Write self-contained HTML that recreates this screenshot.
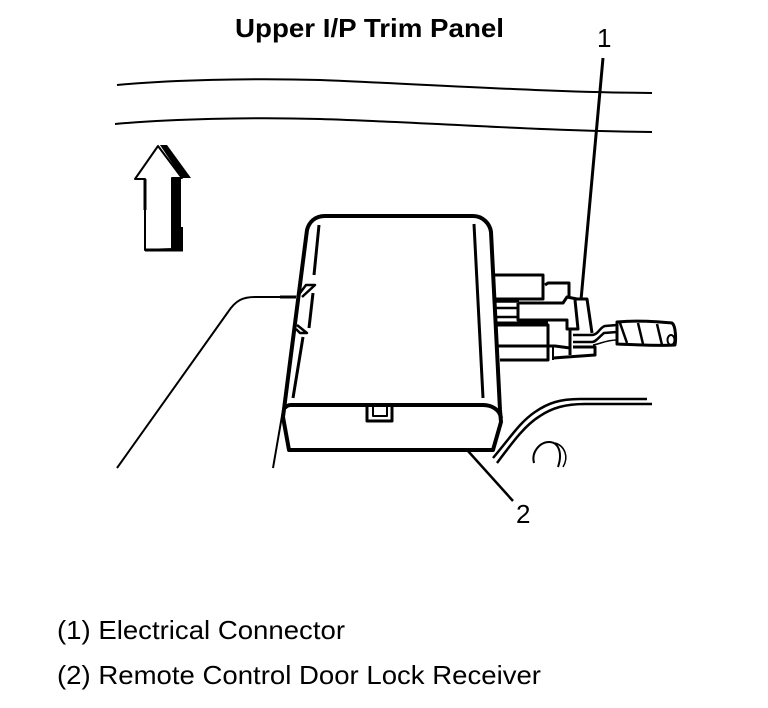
<!DOCTYPE html>
<html>
<head>
<meta charset="utf-8">
<style>
html,body{margin:0;padding:0;background:#fff;}
svg{display:block;}
text{font-family:"Liberation Sans",sans-serif;fill:#000;}
</style>
</head>
<body>
<svg width="768" height="708" viewBox="0 0 768 708" xmlns="http://www.w3.org/2000/svg" fill="none" stroke="#000" stroke-linecap="butt" stroke-linejoin="round">
<text x="235" y="37" font-size="26" font-weight="bold" stroke="none" textLength="269" lengthAdjust="spacingAndGlyphs">Upper I/P Trim Panel</text>
<text x="597" y="47" font-size="26" stroke="none">1</text>
<text x="516" y="523" font-size="26" stroke="none">2</text>
<text x="57" y="639" font-size="26" stroke="none" textLength="288" lengthAdjust="spacingAndGlyphs">(1) Electrical Connector</text>
<text x="57" y="684" font-size="26" stroke="none" textLength="484" lengthAdjust="spacingAndGlyphs">(2) Remote Control Door Lock Receiver</text>

<!-- dash lines -->
<path d="M117 85C170 80 250 78 320 80C420 84 540 92 652 93" stroke-width="2"/>
<path d="M115 124C170 119 250 117 320 119C420 122 540 131 652 132" stroke-width="2"/>

<!-- arrow -->
<path d="M145 250V179H135L158 146L182 178H172V249Z" fill="#fff" stroke-width="2"/>
<path d="M145 179V210" stroke-width="3"/>
<path d="M160 145H167L191 178H182Z" fill="#000" stroke="none"/>
<path d="M172 177H181V227H183V250H172Z" fill="#000" stroke="none"/>
<path d="M145 250H183" stroke-width="3"/>

<!-- left contour -->
<path d="M117 468L228 312C236 300 243 297 255 297H296" stroke-width="2"/>
<path d="M280 297H296" stroke-width="3"/>
<path d="M273 468L283 410" stroke-width="2"/>

<!-- box -->
<path d="M325 216H473C483 216 490 224 491 232L500 410L501 422L493 450H289L283 417L307 230C309 222 315 216 325 216Z" stroke-width="4"/>
<path d="M285 408Q287 405 291 405H483C492 405 500 410 501 418" stroke-width="4"/>
<path d="M319 225L314 275M313 293L309 328M303 337L293 398" stroke-width="3"/>
<path d="M474 224L483 398" stroke-width="3"/>
<path d="M297 297L306 285H315L302 297" stroke-width="2.5"/>
<path d="M297 325L307 333H300L296 329" stroke-width="2.5"/>
<path d="M367 406V421H392V406" stroke-width="3"/>
<path d="M373 406V416H387V406" stroke-width="2"/>

<!-- leader 1, 2 -->
<path d="M603 58L581 300" stroke-width="3"/>
<path d="M468 451L513 501" stroke-width="2.5"/>

<!-- connector -->
<path d="M493 275H543V299H493" stroke-width="3"/>
<path d="M545 285L548 283H569V297" stroke-width="3"/>
<path d="M493 301H519" stroke-width="3.5"/>
<path d="M495 308H518M495 317H518" stroke-width="2.5"/>
<path d="M495 323H548" stroke-width="3"/>
<path d="M518 303H563L567 297L577 299H587L592 333" stroke-width="3"/>
<path d="M518 303V320H567V329H578L575 300" stroke-width="3"/>
<path d="M497 325H548V360H500" stroke-width="3"/>
<path d="M497 346H555L570 348" stroke-width="3"/>
<path d="M570 330V355" stroke-width="3"/>
<path d="M573 347H595V355L553 358" stroke-width="3"/>
<path d="M553 347V360" stroke-width="2"/>

<!-- cable -->
<path d="M573 335H592C598 335 600 327 605 326L617 325" stroke-width="2.5"/>
<path d="M573 342H592C596 342 600 336 604 333L617 332" stroke-width="2.5"/>
<path d="M593 345C600 344 606 340 617 340" stroke-width="1.5"/>
<path d="M617 322C640 320 660 322 672 323C676 326 676 340 675 345C660 346 640 345 617 344Z" stroke-width="3"/>
<path d="M620 323L627 343M638 323L643 344M657 324L662 345" stroke-width="2.5"/>
<ellipse cx="671" cy="340" rx="3.5" ry="5" stroke-width="2"/>

<!-- right lower contour -->
<path d="M493 458C510 438 520 422 535 412C548 403 560 399 580 399H647" stroke-width="2.5"/>
<path d="M497 463C512 443 525 425 540 416C552 408 565 404 585 404H652" stroke-width="2.5"/>
<path d="M534 463C531 452 540 442 549 442C558 442 563 452 558 467" stroke-width="2"/>
<path d="M555 443C565 446 569 457 563 467" stroke-width="1.5"/>
</svg>
</body>
</html>
